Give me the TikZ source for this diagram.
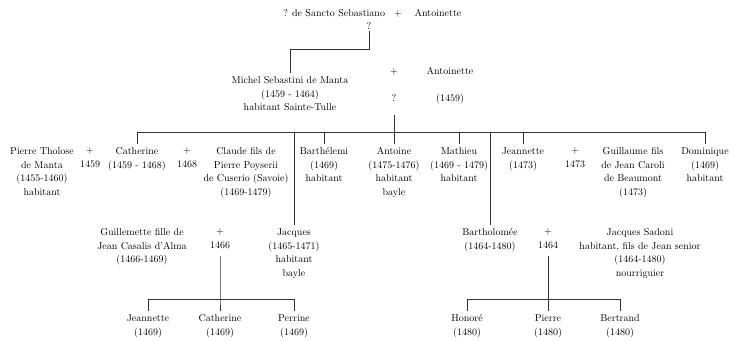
\documentclass[tikz,border=0pt]{standalone}
\usepackage{tikz}

\begin{document}
\begin{tikzpicture}[
    x=1pt, y=-1pt,
    person/.style={align=center, inner sep=4pt, anchor=north, execute at begin node=\strut, font=\fontsize{10}{13.5}\selectfont},
    union/.style={person},
    link/.style={line width=0.6pt, draw=black!80}
]
\useasboundingbox (0,0) rectangle (735,340);
% first generation
\node[person] (sancto) at (334,2.5) {? de Sancto Sebastiano};
\node[union] (plusA) at (398,2.5) {+};
\node[person] (antoinetteA) at (438,2.5) {Antoinette};
\node[union] (topq) at (369,15.5) {?};
% second generation
\node[person] (michel) at (290,72.5) {Michel Sebastini de Manta\\(1459 - 1464)\\habitant Sainte-Tulle};
\node[union] (plusB) at (394,60.5) {+};
\node[person] (antoinetteB) at (450,60.5) {Antoinette};
\node[union] (qB) at (394,87.5) {?};
\node[person] (antoinetteBd) at (450,87.5) {(1459)};
% children of Michel
\node[person] (tholose) at (42,143.5) {Pierre Tholose\\de Manta\\(1455-1460)\\habitant};
\node[union] (plusC) at (90,143.5) {+\\1459};
\node[person] (catherine) at (137,143.5) {Catherine\\(1459 - 1468)};
\node[union] (plusD) at (187,143.5) {+\\1468};
\node[person] (claude) at (246,143.5) {Claude fils de\\Pierre Poyserii\\de Cuserio (Savoie)\\(1469-1479)};
\node[person] (barthelemi) at (324,143.5) {Barthélemi\\(1469)\\habitant};
\node[person] (antoine) at (394,143.5) {Antoine\\(1475-1476)\\habitant\\bayle};
\node[person] (mathieu) at (459,143.5) {Mathieu\\(1469 - 1479)\\habitant};
\node[person] (jeannette) at (523,143.5) {Jeannette\\(1473)};
\node[union] (plusE) at (575,143.5) {+\\1473};
\node[person] (guillaume) at (633,143.5) {Guillaume fils\\de Jean Caroli\\de Beaumont\\(1473)};
\node[person] (dominique) at (705,143.5) {Dominique\\(1469)\\habitant};
% third generation
\node[person] (guillemette) at (142,224.5) {Guillemette fille de\\Jean Casalis d'Alma\\(1466-1469)};
\node[union] (plusF) at (220,224.5) {+\\1466};
\node[person] (jacques) at (294,224.5) {Jacques\\(1465-1471)\\habitant\\bayle};
\node[person] (bartholomee) at (490,224.5) {Bartholomée\\(1464-1480)};
\node[union] (plusG) at (548,224.5) {+\\1464};
\node[person] (sadoni) at (640,224.5) {Jacques Sadoni\\habitant, fils de Jean senior\\(1464-1480)\\nourriguier};
% fourth generation
\node[person] (jeannetteB) at (148,310.5) {Jeannette\\(1469)};
\node[person] (catherineB) at (220,310.5) {Catherine\\(1469)};
\node[person] (perrine) at (294,310.5) {Perrine\\(1469)};
\node[person] (honore) at (467,310.5) {Honoré\\(1480)};
\node[person] (pierre) at (548,310.5) {Pierre\\(1480)};
\node[person] (bertrand) at (620,310.5) {Bertrand\\(1480)};
% connectors
\coordinate (sibs) at (394,132);
\coordinate (kidsA) at (220,299);
\coordinate (kidsB) at (548,299);
\draw[link, shorten <=1.5pt] (topq.base) -- ++(0,20) -| (michel.north);
\draw[link, shorten <=14pt] (qB.base) -- (antoine.north);
\draw[link] (catherine.north) -- (catherine.north |- sibs) -| (dominique.north);
\foreach \n in {barthelemi, mathieu, jeannette}
    \draw[link] (\n.north |- sibs) -- (\n.north);
\draw[link] (jacques.north |- sibs) -- (jacques.north);
\draw[link] (bartholomee.north |- sibs) -- (bartholomee.north);
\draw[link] (plusF.south) -- (kidsA) -- (catherineB.north);
\draw[link] (jeannetteB.north) -- (jeannetteB.north |- kidsA) -| (perrine.north);
\draw[link] (plusG.south) -- (kidsB) -- (pierre.north);
\draw[link] (honore.north) -- (honore.north |- kidsB) -| (bertrand.north);
\end{tikzpicture}
\end{document}
